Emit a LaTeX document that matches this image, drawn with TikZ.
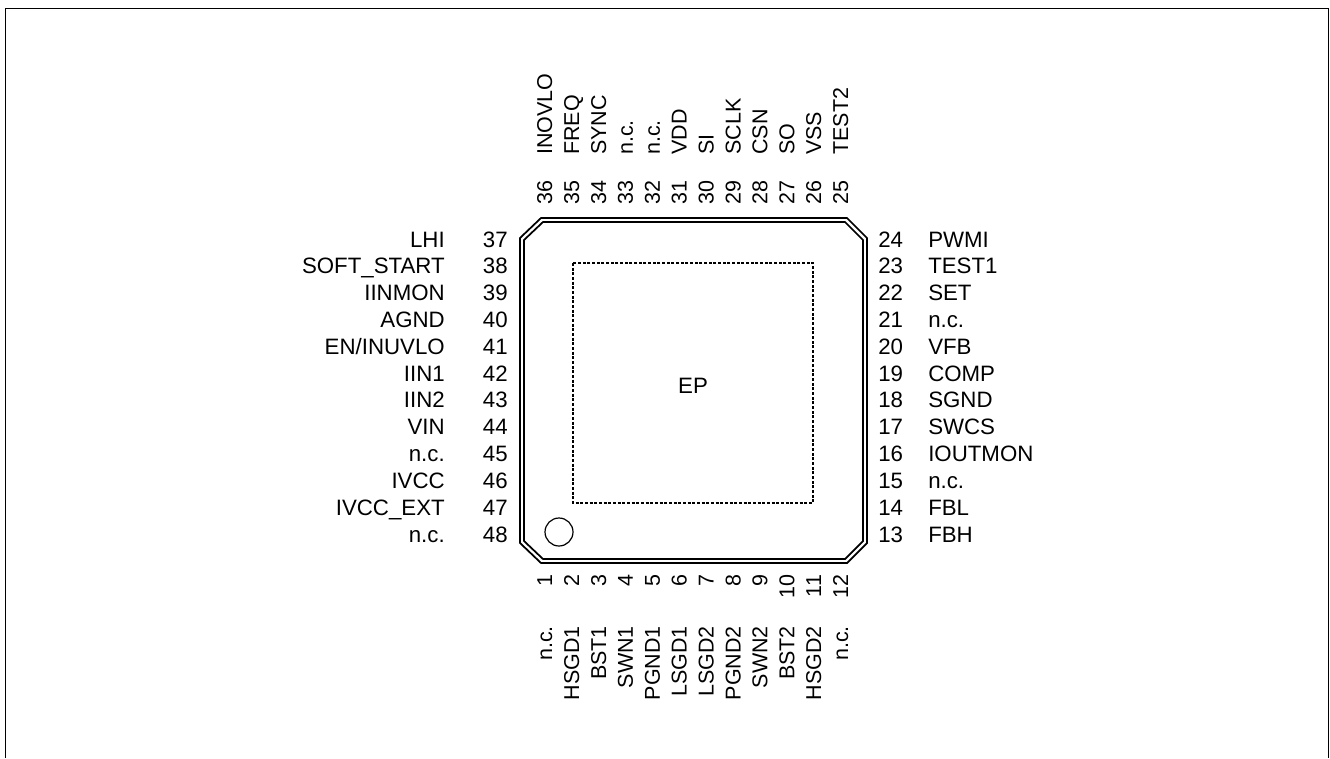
\documentclass[tikz,border=0pt]{standalone}
\usepackage{fontspec}
\setmainfont{Liberation Sans}
\begin{document}
\begin{tikzpicture}[x=0.75pt,y=-0.75pt,pin label/.style={font=\fontsize{16.7}{19}\selectfont, inner sep=0pt, text height=12pt, text depth=0pt},
    side label/.style={font=\fontsize{16.1}{19}\selectfont, inner sep=0pt, text height=11.6pt, text depth=0pt, rotate=90},
    outline/.style={draw, line width=1.3pt}]
        \useasboundingbox (0,0) rectangle (1330,758);
        \coordinate (frame a) at (5.5,758);
        \coordinate (frame b) at (5.5,8.5);
        \coordinate (frame c) at (1328.5,8.5);
        \coordinate (frame d) at (1328.5,758);
        \draw[line width=1.1pt] (frame a) -- (frame b) -- (frame c) -- (frame d);

        % package outline
        \draw[outline] (520,238) -- (541,218) -- (847,218) -- (867,238) -- (867,543) -- (847,563) -- (541,563) -- (520,543) -- cycle;
        \draw[outline] (524,240) -- (543,222) -- (845,222) -- (863,240) -- (863,541) -- (845,559) -- (543,559) -- (524,541) -- cycle;
        \draw[line width=0.9pt, dash pattern=on 2.2pt off 1.3pt] (573,263) rectangle (813,503);
        \draw[line width=0.9pt] (559,532) circle (14);
        \node[pin label] (ep) at (693,385) {EP};

        % left side
        \foreach \n/\t [count=\i from 0] in {37/LHI,38/SOFT\_START,39/IINMON,40/AGND,41/{EN/INUVLO},42/IIN1,43/IIN2,44/VIN,45/n.c.,46/IVCC,47/IVCC\_EXT,48/n.c.}{
          \node[pin label, anchor=east] (num\n) at (508,239+26.82*\i) {\n};
          \node[pin label, anchor=east] (name\n) at (445,239+26.82*\i) {\t};
        }
        % right side
        \foreach \n/\t [count=\i from 0] in {24/PWMI,23/TEST1,22/SET,21/n.c.,20/VFB,19/COMP,18/SGND,17/SWCS,16/IOUTMON,15/n.c.,14/FBL,13/FBH}{
          \node[pin label, anchor=west] (num\n) at (878,239+26.82*\i) {\n};
          \node[pin label, anchor=west] (name\n) at (928,239+26.82*\i) {\t};
        }
        % top side
        \foreach \n/\t [count=\i from 0] in {36/INOVLO,35/FREQ,34/SYNC,33/n.c.,32/n.c.,31/VDD,30/SI,29/SCLK,28/CSN,27/SO,26/VSS,25/TEST2}{
          \node[side label, anchor=west] (num\n) at (544.5+26.9*\i,205) {\n};
          \node[side label, anchor=west] (name\n) at (544.5+26.9*\i,155) {\t};
        }
        % bottom side
        \foreach \n/\t [count=\i from 0] in {1/n.c.,2/HSGD1,3/BST1,4/SWN1,5/PGND1,6/LSGD1,7/LSGD2,8/PGND2,9/SWN2,10/BST2,11/HSGD2,12/n.c.}{
          \node[side label, anchor=east] (num\n) at (544.5+26.9*\i,574.5) {\n};
          \node[side label, anchor=east] (name\n) at (544.5+26.9*\i,626) {\t};
        }
\end{tikzpicture}
\end{document}
